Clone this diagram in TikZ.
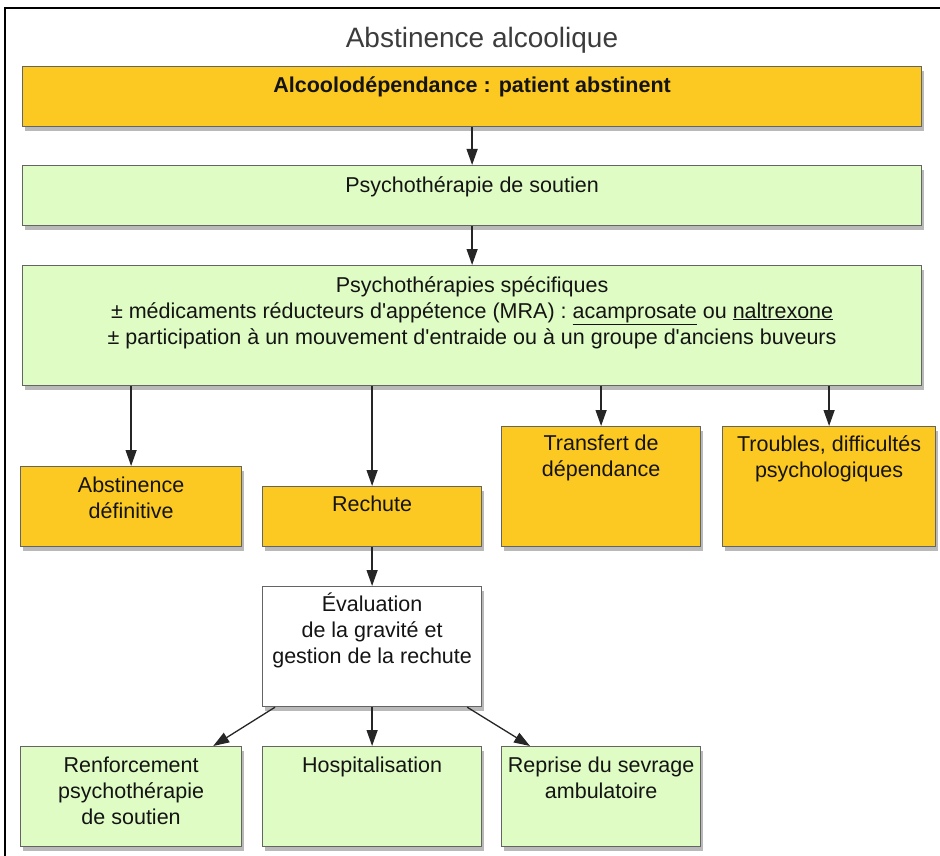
\documentclass[tikz,border=0pt]{standalone}
\usepackage{fontspec}
\setmainfont{Liberation Sans}[Ligatures=TeXOff]
\usetikzlibrary{shadows,arrows.meta}

\definecolor{BoxOrange}{RGB}{252,200,34}
\definecolor{BoxGreen}{RGB}{222,252,196}
\definecolor{BoxBorder}{RGB}{100,100,100}
\definecolor{TitleGray}{RGB}{60,60,60}

\tikzset{
  box/.style={draw=BoxBorder, line width=1.2pt, anchor=north west, inner sep=0pt,
    drop shadow={shadow xshift=2.5pt, shadow yshift=-4.5pt, fill=black!55, opacity=.5}},
  orangebox/.style={box, fill=BoxOrange},
  greenbox/.style={box, fill=BoxGreen},
  whitebox/.style={box, fill=white},
  boxtext/.style={anchor=north, inner sep=0pt, align=center,
    font=\fontsize{21.5}{26}\selectfont, text=black!92},
  flowtip/.tip={Triangle[length=16pt, width=11pt]},
  flow/.style={draw=black!85, line width=1.3pt, -flowtip},
}

\begin{document}
\begin{tikzpicture}[x=1pt, y=-1pt]

\useasboundingbox (0,0) rectangle (940,856);
\draw[line width=2pt] (940,8) -- (5,8) -- (5,856);

\node[text=TitleGray, font=\fontsize{28}{32}\selectfont, anchor=base] (titre) at (482,48) {Abstinence alcoolique};

% Cadres
\node[orangebox, minimum width=899pt, minimum height=60pt] (patient) at (22,66) {};
\node[greenbox, minimum width=899pt, minimum height=60pt] (soutien) at (22,165) {};
\node[greenbox, minimum width=899pt, minimum height=120pt] (specif) at (22,265) {};
\node[orangebox, minimum width=221pt, minimum height=80pt] (abst) at (20,466) {};
\node[orangebox, minimum width=219pt, minimum height=60pt] (rechute) at (262,486) {};
\node[orangebox, minimum width=199pt, minimum height=120pt] (transfert) at (501,426) {};
\node[orangebox, minimum width=213pt, minimum height=120pt] (troubles) at (722,426) {};
\node[whitebox, minimum width=219pt, minimum height=120pt] (eval) at (262,586) {};
\node[greenbox, minimum width=221pt, minimum height=100pt] (renf) at (20,746) {};
\node[greenbox, minimum width=219pt, minimum height=100pt] (hosp) at (262,746) {};
\node[greenbox, minimum width=199pt, minimum height=100pt] (reprise) at (501,746) {};

% Textes
\node[boxtext] (t-patient) at ([yshift=-10.5pt]patient.north) {\bfseries Alcoolodépendance : patient abstinent};
\node[boxtext] (t-soutien) at ([yshift=-11pt]soutien.north) {Psychothérapie de soutien};
\node[boxtext] (t-specif) at ([yshift=-11pt]specif.north) {Psychothérapies spécifiques\\
  ± médicaments réducteurs d'appétence (MRA) : \underline{acamprosate} ou \underline{naltrexone}\\
  ± participation à un mouvement d'entraide ou à un groupe d'anciens buveurs};
\node[boxtext] (t-abst) at ([yshift=-11pt]abst.north) {Abstinence\\définitive};
\node[boxtext] (t-rechute) at ([yshift=-10pt]rechute.north) {Rechute};
\node[boxtext] (t-transfert) at ([yshift=-9pt]transfert.north) {Transfert de\\dépendance};
\node[boxtext] (t-troubles) at ([yshift=-9pt]troubles.north) {Troubles, difficultés\\psychologiques};
\node[boxtext] (t-eval) at ([yshift=-7pt]eval.north) {Évaluation\\de la gravité et\\gestion de la rechute};
\node[boxtext] (t-renf) at ([yshift=-11pt]renf.north) {Renforcement\\psychothérapie\\de soutien};
\node[boxtext] (t-hosp) at ([yshift=-11pt]hosp.north) {Hospitalisation};
\node[boxtext] (t-reprise) at ([yshift=-11pt]reprise.north) {Reprise du sevrage\\ambulatoire};

% Fleches
\draw[flow] (patient) -- (soutien);
\draw[flow] (soutien) -- (specif);
\draw[flow] (specif.south -| abst.north) -- (abst.north);
\draw[flow] (specif.south -| rechute.north) -- (rechute.north);
\draw[flow] (specif.south -| transfert.north) -- (transfert.north);
\draw[flow] (specif.south -| troubles.north) -- (troubles.north);
\draw[flow] (rechute) -- (eval);
\draw[flow] ([xshift=13pt]eval.south west) -- ([xshift=-29pt]renf.north east);
\draw[flow] (eval) -- (hosp);
\draw[flow] ([xshift=-15pt]eval.south east) -- ([xshift=29pt]reprise.north west);

\end{tikzpicture}
\end{document}
